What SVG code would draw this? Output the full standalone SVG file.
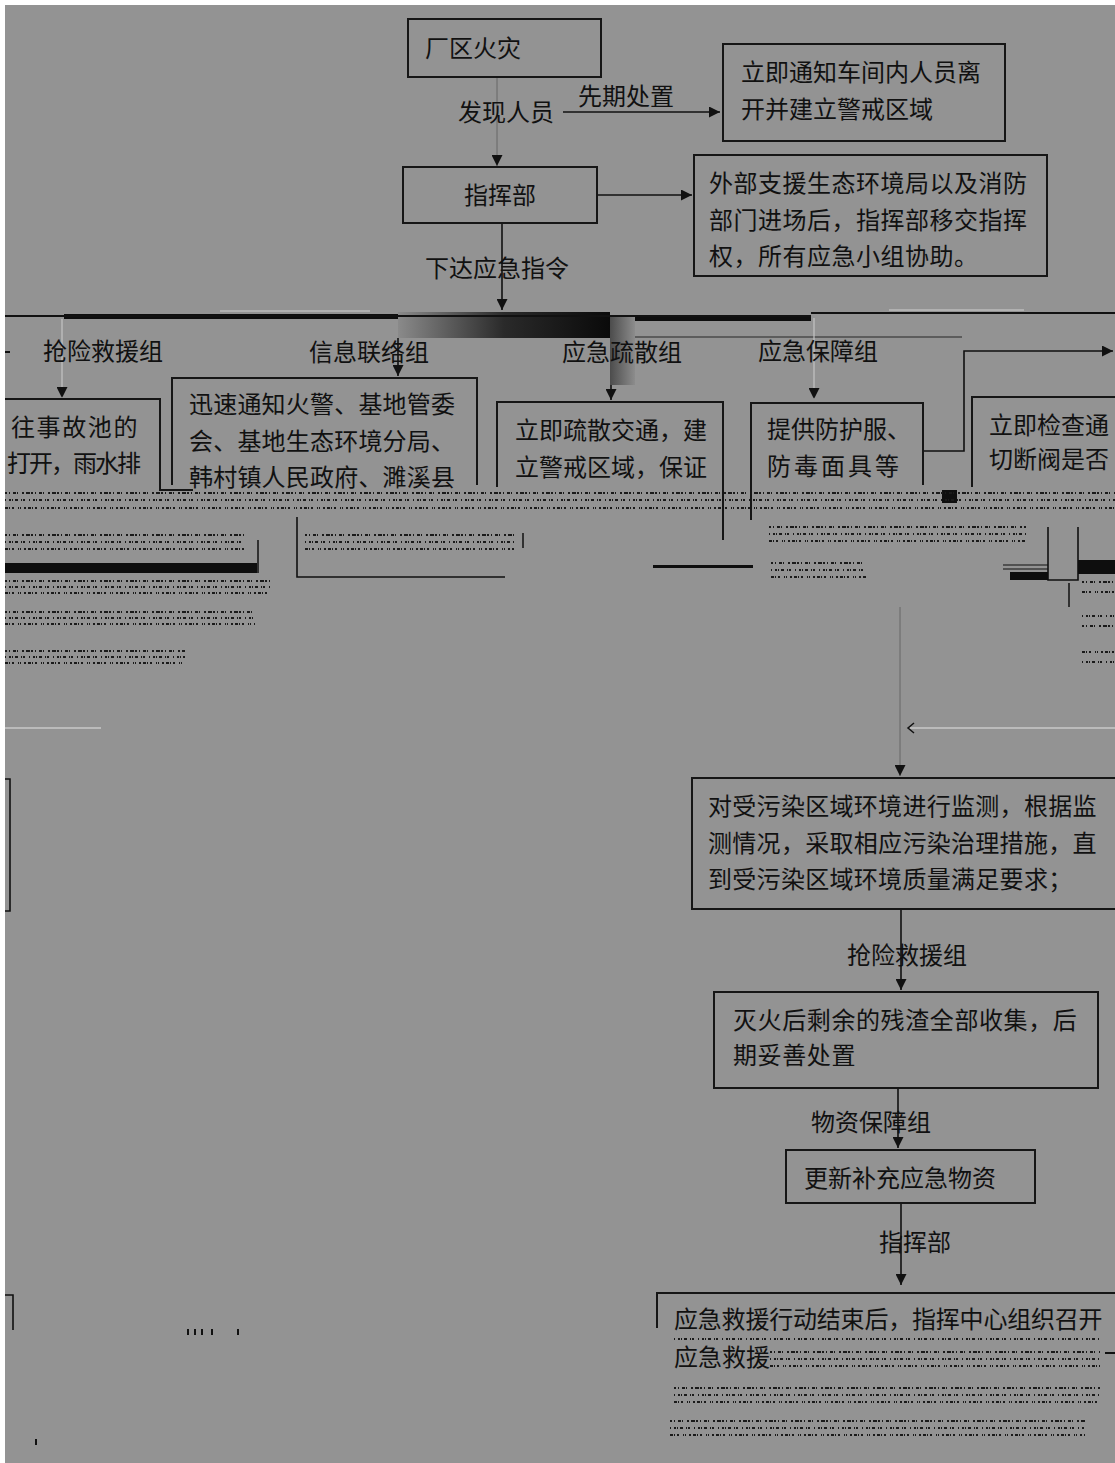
<svg xmlns="http://www.w3.org/2000/svg" width="1115" height="1463" viewBox="0 0 1115 1463">
<style>
.box{fill:none;stroke:#161616;stroke-width:2}
.t{font-family:"Noto Sans CJK SC","Noto Sans",sans-serif;font-size:24px;fill:#111}
.c{fill:none;stroke:#111;stroke-width:1.6}
.cl{fill:none;stroke:#c4c4c4;stroke-width:1.2}
.cg{fill:none;stroke:#6e6e6e;stroke-width:1.2}
.k{fill:#0e0e0e}
.n{fill:none;stroke:#1a1a1a;stroke-width:2}
.n1{stroke-dasharray:2 2 1 3 3 1 1 4 2 2 4 1}
.n2{stroke-dasharray:1 3 2 1 1 2 3 3 1 1 2 4}
.n3{stroke-dasharray:3 1 1 2 2 4 1 1 1 3 2 2}
</style>
<defs>
<marker id="ah" viewBox="0 0 10 10" refX="10" refY="5" markerWidth="11" markerHeight="11" markerUnits="userSpaceOnUse" orient="auto">
<path d="M0,0 L10,5 L0,10 z" fill="#111"/>
</marker>
<linearGradient id="g1" x1="0" y1="0" x2="1" y2="0">
<stop offset="0" stop-color="#8a8a8a"/>
<stop offset="0.5" stop-color="#2a2a2a"/>
<stop offset="1" stop-color="#0a0a0a"/>
</linearGradient>
<linearGradient id="g2" x1="0" y1="0" x2="1" y2="0">
<stop offset="0" stop-color="#4c4c4c"/>
<stop offset="1" stop-color="#8c8c8c"/>
</linearGradient>
</defs>
<rect x="0" y="0" width="1115" height="1463" fill="#939393"/>

<g id="artifacts">
<rect x="398" y="312" width="212" height="26" fill="url(#g1)"/>
<rect x="610" y="316" width="25" height="69" fill="url(#g2)"/>
<rect x="64" y="314" width="334" height="5" class="k"/>
<rect x="635" y="316" width="176" height="5" class="k"/>
<line x1="635" y1="337" x2="962" y2="337" stroke="#4a4a4a" stroke-width="1.5"/>
<line x1="220" y1="311" x2="370" y2="311" stroke="#cfcfcf" stroke-width="1.2"/>
<line x1="889" y1="310" x2="1024" y2="310" stroke="#cfcfcf" stroke-width="1.2"/>
<line x1="5" y1="352" x2="10" y2="352" stroke="#111" stroke-width="2"/>
<rect x="5" y="563" width="252" height="10" class="k"/>
<line x1="258" y1="540" x2="258" y2="573" stroke="#111" stroke-width="1.5"/>
<path d="M297,517 V577 H505" class="c"/>
<line x1="523" y1="533" x2="523" y2="548" stroke="#111" stroke-width="1.5"/>
<rect x="653" y="565" width="100" height="3" class="k"/>
<rect x="942" y="490" width="15" height="13" class="k"/>
<path d="M1048,527 V580 H1078 V527" class="c"/>
<line x1="1003" y1="565" x2="1048" y2="565" stroke="#111" stroke-width="1.2"/>
<line x1="1003" y1="569" x2="1048" y2="569" stroke="#111" stroke-width="1.2"/>
<rect x="1010" y="572" width="38" height="8" class="k"/>
<rect x="1078" y="560" width="37" height="14" class="k"/>
<line x1="1069" y1="583" x2="1069" y2="607" stroke="#111" stroke-width="1.5"/>
<line x1="5" y1="728" x2="101" y2="728" stroke="#c8c8c8" stroke-width="1.5"/>
<line x1="910" y1="728" x2="1115" y2="728" stroke="#c8c8c8" stroke-width="1.5"/>
<path d="M5,779 H10 V911 H5" class="c"/>
<path d="M5,1295 H13 V1330" class="c"/>
<g stroke="#111" stroke-width="2">
<line x1="188" y1="1329" x2="188" y2="1335"/><line x1="195" y1="1329" x2="195" y2="1335"/>
<line x1="202" y1="1329" x2="202" y2="1335"/><line x1="212" y1="1329" x2="212" y2="1335"/>
<line x1="238" y1="1329" x2="238" y2="1335"/><line x1="36" y1="1439" x2="36" y2="1445"/>
<line x1="1105" y1="1353" x2="1115" y2="1353"/>
</g>
<g class="n">
<line class="n1" x1="5" y1="493" x2="1115" y2="493"/><line class="n2" x1="5" y1="500" x2="1115" y2="500"/><line class="n3" x1="5" y1="508" x2="1115" y2="508"/>
<line class="n1" x1="5" y1="535" x2="245" y2="535"/><line class="n2" x1="5" y1="542" x2="245" y2="542"/><line class="n3" x1="5" y1="549" x2="245" y2="549"/>
<line class="n1" x1="305" y1="535" x2="514" y2="535"/><line class="n2" x1="305" y1="542" x2="514" y2="542"/><line class="n3" x1="305" y1="549" x2="514" y2="549"/>
<line class="n1" x1="769" y1="527" x2="1026" y2="527"/><line class="n2" x1="769" y1="534" x2="1026" y2="534"/><line class="n3" x1="769" y1="541" x2="1026" y2="541"/>
<line class="n1" x1="5" y1="581" x2="270" y2="581"/><line class="n2" x1="5" y1="587" x2="270" y2="587"/><line class="n3" x1="5" y1="593" x2="270" y2="593"/>
<line class="n1" x1="771" y1="563" x2="866" y2="563"/><line class="n2" x1="771" y1="570" x2="866" y2="570"/><line class="n3" x1="771" y1="577" x2="866" y2="577"/>
<line class="n1" x1="5" y1="612" x2="255" y2="612"/><line class="n2" x1="5" y1="618" x2="255" y2="618"/><line class="n3" x1="5" y1="624" x2="255" y2="624"/>
<line class="n1" x1="5" y1="651" x2="185" y2="651"/><line class="n2" x1="5" y1="657" x2="185" y2="657"/><line class="n3" x1="5" y1="663" x2="185" y2="663"/>
<line class="n1" x1="1082" y1="582" x2="1115" y2="582"/><line class="n3" x1="1082" y1="592" x2="1115" y2="592"/>
<line class="n2" x1="1082" y1="616" x2="1115" y2="616"/><line class="n1" x1="1082" y1="626" x2="1115" y2="626"/>
<line class="n3" x1="1082" y1="652" x2="1115" y2="652"/><line class="n2" x1="1082" y1="662" x2="1115" y2="662"/>
<line class="n2" x1="674" y1="1339" x2="1100" y2="1339"/>
<line class="n1" x1="770" y1="1352" x2="1100" y2="1352"/><line class="n2" x1="770" y1="1359" x2="1100" y2="1359"/><line class="n3" x1="770" y1="1366" x2="1100" y2="1366"/>
<line class="n1" x1="674" y1="1388" x2="1100" y2="1388"/><line class="n2" x1="674" y1="1395" x2="1100" y2="1395"/><line class="n3" x1="674" y1="1402" x2="1100" y2="1402"/>
<line class="n1" x1="670" y1="1421" x2="1085" y2="1421"/><line class="n2" x1="670" y1="1428" x2="1085" y2="1428"/><line class="n3" x1="670" y1="1435" x2="1085" y2="1435"/>
</g>
</g>

<g id="connectors">
<line x1="497" y1="77" x2="497" y2="166" class="cg" marker-end="url(#ah)"/>
<line x1="563" y1="112" x2="720" y2="112" class="c" marker-end="url(#ah)"/>
<line x1="597" y1="195" x2="692" y2="195" class="c" marker-end="url(#ah)"/>
<line x1="502" y1="223" x2="502" y2="310" class="c" marker-end="url(#ah)"/>
<line x1="5" y1="316" x2="811" y2="316" stroke="#111" stroke-width="2"/>
<line x1="811" y1="313" x2="1115" y2="313" stroke="#111" stroke-width="2"/>
<line x1="62" y1="319" x2="62" y2="398" class="cl" marker-end="url(#ah)"/>
<line x1="398" y1="338" x2="398" y2="376" class="c" marker-end="url(#ah)"/>
<line x1="611" y1="385" x2="611" y2="400" class="c" marker-end="url(#ah)"/>
<line x1="814" y1="318" x2="814" y2="399" class="cl" marker-end="url(#ah)"/>
<polyline points="923,451 964,451 964,351 1113,351" class="c" marker-end="url(#ah)"/>
<line x1="900" y1="607" x2="900" y2="776" class="cg" marker-end="url(#ah)"/>
<path d="M914,723 L908,728 L914,733" fill="none" stroke="#111" stroke-width="1.5"/>
<line x1="901" y1="909" x2="901" y2="990" class="c" marker-end="url(#ah)"/>
<line x1="898" y1="1088" x2="898" y2="1148" class="c" marker-end="url(#ah)"/>
<line x1="901" y1="1203" x2="901" y2="1285" class="c" marker-end="url(#ah)"/>
<text class="t" x="458" y="121">发现人员</text>
<text class="t" x="578" y="105">先期处置</text>
<text class="t" x="425" y="277">下达应急指令</text>
<text class="t" x="43" y="360">抢险救援组</text>
<text class="t" x="309" y="361">信息联络组</text>
<text class="t" x="562" y="361">应急疏散组</text>
<text class="t" x="758" y="360">应急保障组</text>
<text class="t" x="847" y="964">抢险救援组</text>
<text class="t" x="811" y="1131">物资保障组</text>
<text class="t" x="879" y="1251">指挥部</text>
</g>

<g id="n-fire">
<rect x="408" y="19" width="193" height="58" class="box"/>
<text class="t" x="425" y="57">厂区火灾</text>
</g>
<g id="n-notify">
<rect x="723" y="44" width="282" height="97" class="box"/>
<text class="t" x="741" y="81">立即通知车间内人员离</text>
<text class="t" x="741" y="118">开并建立警戒区域</text>
</g>
<g id="n-hq">
<rect x="403" y="167" width="194" height="56" class="box"/>
<text class="t" x="500" y="204" text-anchor="middle">指挥部</text>
</g>
<g id="n-support">
<rect x="694" y="155" width="353" height="121" class="box"/>
<text class="t" x="709" y="192" letter-spacing="0.5">外部支援生态环境局以及消防</text>
<text class="t" x="709" y="229" letter-spacing="0.5">部门进场后，指挥部移交指挥</text>
<text class="t" x="709" y="265" letter-spacing="0.5">权，所有应急小组协助。</text>
</g>
<g id="n-rescue">
<path d="M5,399 H160 V490 H193" class="box"/>
<text class="t" x="11" y="436" letter-spacing="1.6">往事故池的</text>
<text class="t" x="7" y="472" letter-spacing="-2">打开，雨水排</text>
</g>
<g id="n-info">
<path d="M172,485 V378 H477 V485" class="box"/>
<text class="t" x="189" y="413" letter-spacing="0.2">迅速通知火警、基地管委</text>
<text class="t" x="189" y="450" letter-spacing="0.2">会、基地生态环境分局、</text>
<text class="t" x="189" y="486" letter-spacing="0.2">韩村镇人民政府、濉溪县</text>
</g>
<g id="n-evac">
<path d="M497,487 V402 H723 V540" class="box"/>
<text class="t" x="515" y="439">立即疏散交通，建</text>
<text class="t" x="515" y="476">立警戒区域，保证</text>
</g>
<g id="n-supply">
<path d="M751,520 V403 H923 V485" class="box"/>
<text class="t" x="767" y="438">提供防护服、</text>
<text class="t" x="767" y="475" letter-spacing="3">防毒面具等</text>
</g>
<g id="n-check">
<path d="M972,487 V397 H1115" class="box"/>
<text class="t" x="989" y="434">立即检查通</text>
<text class="t" x="989" y="468">切断阀是否</text>
</g>
<g id="n-monitor">
<path d="M1115,778 H692 V909 H1115" class="box"/>
<text class="t" x="708" y="815" letter-spacing="0.3">对受污染区域环境进行监测，根据监</text>
<text class="t" x="708" y="852" letter-spacing="0.3">测情况，采取相应污染治理措施，直</text>
<text class="t" x="708" y="888" letter-spacing="0.3">到受污染区域环境质量满足要求；</text>
</g>
<g id="n-residue">
<rect x="714" y="992" width="384" height="96" class="box"/>
<text class="t" x="733" y="1029" letter-spacing="0.6">灭火后剩余的残渣全部收集，后</text>
<text class="t" x="733" y="1064" letter-spacing="0.6">期妥善处置</text>
</g>
<g id="n-restock">
<rect x="786" y="1150" width="249" height="53" class="box"/>
<text class="t" x="804" y="1187">更新补充应急物资</text>
</g>
<g id="n-end">
<path d="M657,1328 V1293 H1115" class="box"/>
<text class="t" x="674" y="1328" letter-spacing="-0.2">应急救援行动结束后，指挥中心组织召开</text>
<text class="t" x="674" y="1366">应急救援</text>
</g>

<rect x="0" y="0" width="1115" height="5" fill="#ffffff"/>
<rect x="0" y="0" width="5" height="1463" fill="#ffffff"/>
</svg>
